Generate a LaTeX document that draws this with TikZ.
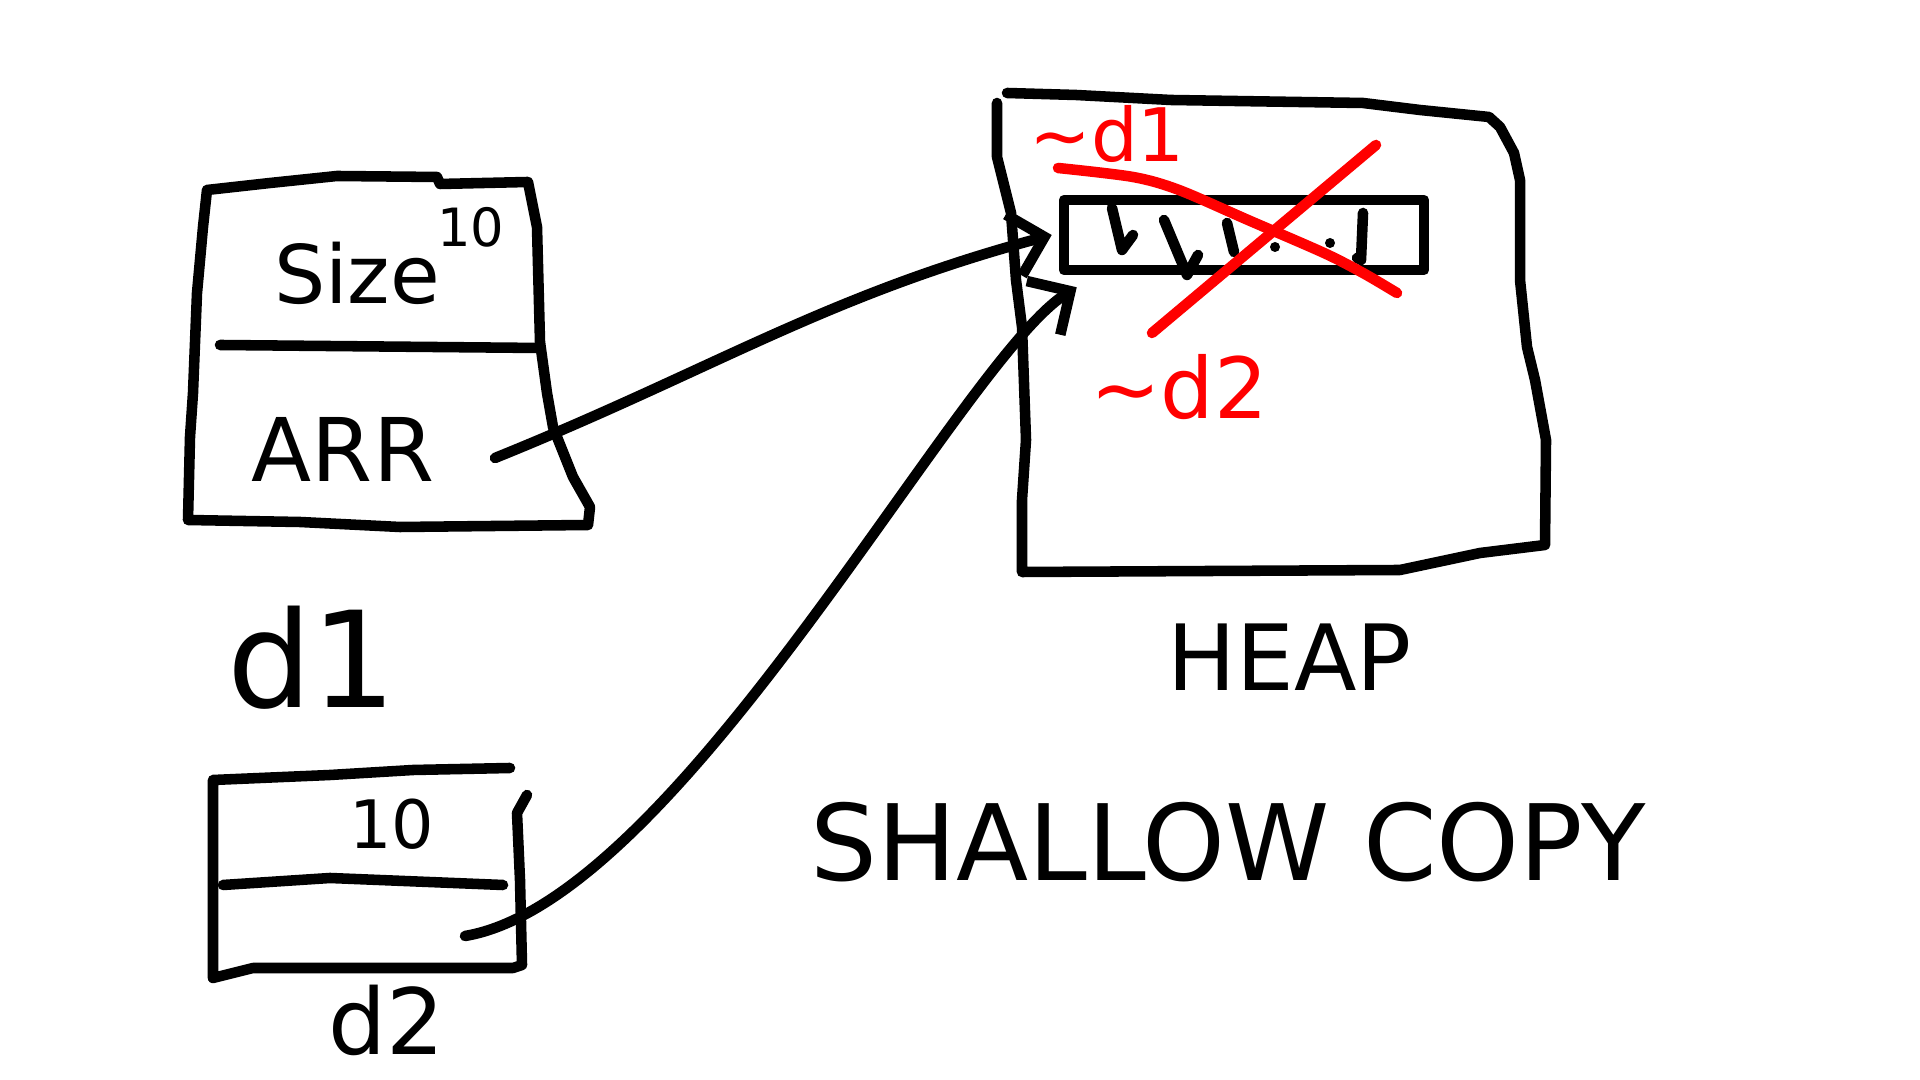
\documentclass[tikz,border=0pt]{standalone}
\usepackage{fontspec}
\setmainfont{DejaVu Sans}
\usetikzlibrary{arrows.meta}
\definecolor{inkred}{rgb}{1.000, 0.000, 0.000}

\tikzset{
  ink/.style={line width=3pt,line cap=round,line join=round},
  redink/.style={ink,draw=inkred},
  hand/.style={inner sep=0pt,font=\fontsize{#1}{#1}\selectfont},
  pointer/.style={ink,-{Straight Barb[length=9pt,width=18pt]}}
}

\begin{document}
\begin{tikzpicture}
\useasboundingbox (0,0) rectangle (19.2,10.8);

% d1 object
\draw [ink] (2.07,8.90) -- (2.70,8.97) -- (3.37,9.04) -- (4.37,9.03) -- (4.40,8.96) -- (5.28,8.98)
  -- (5.37,8.53) -- (5.40,7.38) -- (5.47,6.87) -- (5.53,6.53) -- (5.73,6.03) -- (5.90,5.73) -- (5.88,5.55)
  -- (4.00,5.53) -- (3.00,5.58) -- (1.88,5.60) -- (1.90,6.43) -- (1.93,6.87) -- (1.97,7.87) -- (2.03,8.53) -- cycle;
\draw [ink] (2.20,7.35) -- (5.40,7.32);
\node [hand=23] (size) at (3.57,8.07) {Size};
\node [hand=15] (sizeval) at (4.71,8.53) {10};
\node [hand=25] (arr) at (3.43,6.31) {ARR};
\coordinate (d1arr) at (4.95,6.22);
\node [hand=38] (d1name) at (3.12,4.22) {d1};

% d2 object
\draw [ink] (5.10,3.12) -- (4.13,3.10) -- (3.30,3.05) -- (2.13,3.00) -- (2.13,1.02) -- (2.53,1.12) -- (5.13,1.12) -- (5.22,1.15)
  -- (5.20,2.00) -- (5.17,2.67) -- (5.27,2.85);
\draw [ink] (2.23,1.95) -- (3.30,2.02) -- (5.03,1.95);
\node [hand=19] (d2size) at (3.92,2.56) {10};
\coordinate (d2arr) at (4.65,1.44);
\node [hand=26] (d2name) at (3.87,0.60) {d2};

% heap
\draw [ink] (10.07,9.87) -- (10.76,9.85) -- (11.71,9.80) -- (13.63,9.77) -- (14.20,9.70) -- (14.89,9.63) -- (15.00,9.53)
  -- (15.14,9.27) -- (15.20,9.00) -- (15.20,8.00) -- (15.27,7.33) -- (15.35,7.00) -- (15.46,6.40) -- (15.45,5.35)
  -- (14.80,5.27) -- (14.00,5.10) -- (10.22,5.08) -- (10.22,5.80) -- (10.26,6.40) -- (10.22,7.53) -- (10.16,8.00)
  -- (10.11,8.67) -- (9.97,9.23) -- (9.97,9.77);
\node [hand=26] (heap) at (12.90,4.23) {HEAP};

% array in the heap
\node [ink,draw,minimum width=3.6cm,minimum height=0.7cm] (heaparr) at (12.44,8.45) {};
\draw [ink] (11.12,8.72) -- (11.22,8.30) -- (11.33,8.45);
\draw [ink] (11.64,8.60) -- (11.87,8.05) -- (11.98,8.25);
\draw [ink] (12.27,8.57) -- (12.34,8.28);
\draw [ink] (13.63,8.67) -- (13.61,8.20) -- (13.57,8.22);
\fill (12.75,8.33) circle (0.05);
\fill (13.30,8.37) circle (0.05);

% pointers
\draw [pointer] (d1arr) to[out=22,in=195] ([xshift=-2pt]heaparr.west);
\draw [pointer] (d2arr) .. controls (6.8,1.8) and (9.6,7.2) .. ([shift={(0.18,-0.12)}]heaparr.south west);

% destructors
\node [hand=21,text=inkred] (dtor1) at (11.07,9.46) {\textasciitilde d1};
\draw [redink] plot[smooth] coordinates {(10.58,9.12) (11.33,9.03) (11.79,8.90) (12.48,8.60) (13.24,8.27) (13.63,8.07) (13.97,7.87)};
\draw [redink] (13.76,9.35) -- (11.52,7.47);
\node [hand=24,text=inkred] (dtor2) at (11.79,6.93) {\textasciitilde d2};

% title
\node [hand=30] (title) at (12.28,2.38) {SHALLOW COPY};
\end{tikzpicture}
\end{document}
